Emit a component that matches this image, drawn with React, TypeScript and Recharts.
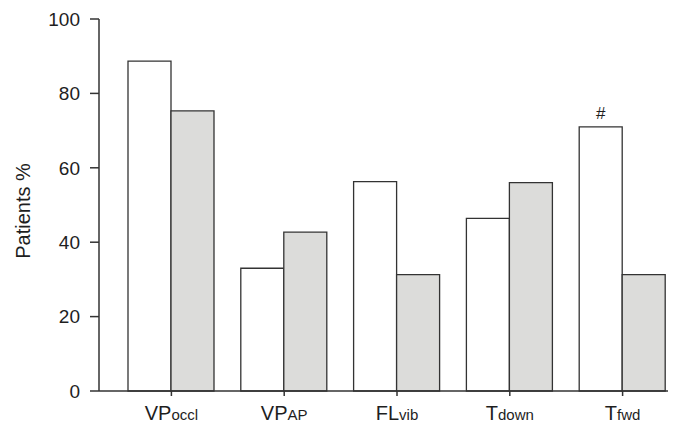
import React from 'react';
import { BarChart, Bar, XAxis, YAxis, LabelList } from 'recharts';

const categories = ['VPoccl', 'VPAP', 'FLvib', 'Tdown', 'Tfwd'];
const tickMain = ['VP', 'VP', 'FL', 'T', 'T'];
const tickSub = ['occl', 'AP', 'vib', 'down', 'fwd'];
const seriesWhite = [88.7, 33.0, 56.3, 46.4, 71.0];
const seriesGrey = [75.3, 42.7, 31.3, 56.0, 31.3];
const marks = ['', '', '', '', '#'];
const yTicks = [0, 20, 40, 60, 80, 100];

const data = categories.map((c, i) => ({
  name: c,
  white: seriesWhite[i],
  grey: seriesGrey[i],
  mark: marks[i],
}));

const FONT = '"Liberation Sans", Arial, Helvetica, sans-serif';
const AXIS = '#333333';
const TEXT = '#1e1e1e';

const XTick = (props: any) => {
  const { x, y, index } = props;
  return (
    <text x={x} y={y + 22} textAnchor="middle" fontFamily={FONT} fill={TEXT}>
      <tspan fontSize={20}>{tickMain[index]}</tspan>
      <tspan fontSize={15}>{tickSub[index]}</tspan>
    </text>
  );
};

const YLabel = (props: any) => {
  const vb = props.viewBox || { x: 0, y: 11, width: 91, height: 372 };
  const cx = vb.x + 15;
  const cy = vb.y + vb.height / 2 + 6;
  return (
    <text
      x={cx}
      y={cy}
      transform={`rotate(-90, ${cx}, ${cy})`}
      textAnchor="middle"
      dominantBaseline="central"
      fontFamily={FONT}
      fontSize={20}
      fill={TEXT}
    >
      Patients %
    </text>
  );
};

export default function App() {
  return (
    <BarChart
      width={668}
      height={416}
      data={data}
      margin={{ top: 11, right: 4, bottom: 0, left: 0 }}
      barGap={0}
      barSize={43}
    >
      <XAxis
        dataKey="name"
        height={33}
        padding={{ left: 16, right: -7 }}
        tick={<XTick />}
        tickSize={5}
        interval={0}
        axisLine={{ stroke: AXIS, strokeWidth: 1.5 }}
        tickLine={{ stroke: AXIS, strokeWidth: 1.5 }}
      />
      <YAxis
        width={91}
        domain={[0, 100]}
        ticks={yTicks}
        tickSize={9}
        tickMargin={10}
        interval={0}
        axisLine={{ stroke: AXIS, strokeWidth: 1.5 }}
        tickLine={{ stroke: AXIS, strokeWidth: 1.5 }}
        tick={{ fontFamily: FONT, fontSize: 19, fill: TEXT }}
        label={YLabel}
      />
      <Bar dataKey="white" fill="#ffffff" stroke={AXIS} strokeWidth={1.3} isAnimationActive={false}>
        <LabelList
          dataKey="mark"
          position="top"
          offset={8}
          style={{ fontFamily: FONT, fontSize: 17, fill: TEXT }}
        />
      </Bar>
      <Bar dataKey="grey" fill="#dcdcda" stroke={AXIS} strokeWidth={1.3} isAnimationActive={false} />
    </BarChart>
  );
}
